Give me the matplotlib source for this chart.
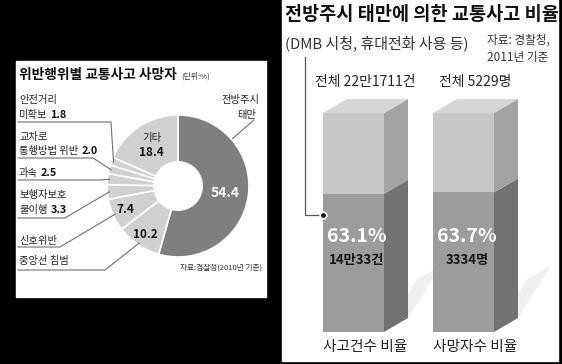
import matplotlib
matplotlib.use('Agg')
import numpy as np
import matplotlib.pyplot as plt
from matplotlib.patches import Rectangle, Polygon

plt.rcParams['font.family'] = ['Noto Sans CJK KR', 'DejaVu Sans']

# left panel: 위반행위별 교통사고 사망자 (단위 %), clockwise from 12 o'clock
violation_names = ['전방주시\n태만', '중앙선 침범', '신호위반', '보행자보호\n불이행',
                   '과속', '교차로\n통행방법 위반', '안전거리\n미확보', '기타']
violation_share = [54.4, 10.2, 7.4, 3.3, 2.5, 2.0, 1.8, 18.4]

# right panel: 전방주시 태만에 의한 교통사고 비율
bar_names = ['사고건수 비율', '사망자수 비율']
bar_share = [63.1, 63.7]
bar_totals = ['전체 22만1711건', '전체 5229명']
bar_counts = ['14만33건', '3334명']

W, H = 562, 364
fig = plt.figure(figsize=(W / 100, H / 100), dpi=100)
fig.patch.set_facecolor('black')


def pixel_axes():
    a = fig.add_axes([0, 0, 1, 1])
    a.set_xlim(0, W)
    a.set_ylim(H, 0)
    a.axis('off')
    return a


# white panels underneath everything
bg = pixel_axes()
bg.add_patch(Rectangle((16, 61), 250, 236, color='white', zorder=0))
bg.add_patch(Rectangle((282, 0), 276, 361, color='white', zorder=0))

# ---- donut ----
cx, cy, R = 178, 186, 71
dark, light = '#7f7f81', '#d0d0d0'
side = 2.5 * R
dax = fig.add_axes([(cx - side / 2) / W, (H - cy - side / 2) / H, side / W, side / H])
colors = [dark] + [light] * (len(violation_share) - 1)
dax.pie(violation_share, startangle=90, counterclock=False, colors=colors,
        wedgeprops=dict(width=0.66, edgecolor='white', linewidth=1.2))

# ---- 3d-looking bars ----
px_unit, px_pct = 110, 2.19
bax = fig.add_axes([300 / W, (H - 332) / H, 240 / W, 252 / H])
bax.set_xlim(-53.5 / px_unit, -53.5 / px_unit + 240 / px_unit)
bax.set_ylim(0, 252 / px_pct)
bax.axis('off')

bw = 61 / px_unit
dx, dy = 24 / px_unit, 14 / px_pct
top_c, front_l, side_l = '#d6d6d8', '#c7c7c9', '#a3a3a5'
front_d, side_d = '#9c9c9e', '#727274'
xs = np.arange(len(bar_share))

for x in xs:
    xr = x + bw / 2
    bax.add_patch(Polygon([(xr, 0), (xr + dx, dy), (xr + dx + 0.3, dy + 24), (xr + 0.3, 24)],
                          closed=True, color='#f0f0f0', lw=0, zorder=0.5, clip_on=False))

rest = [100 - s for s in bar_share]
bax.bar(xs, bar_share, width=bw, color=front_d, zorder=2)
bax.bar(xs, rest, bottom=bar_share, width=bw, color=front_l, zorder=2)
for x, s in zip(xs, bar_share):
    xl, xr = x - bw / 2, x + bw / 2
    bax.add_patch(Polygon([(xr, 0), (xr + dx, dy), (xr + dx, s + dy), (xr, s)],
                          closed=True, color=side_d, lw=0, zorder=2))
    bax.add_patch(Polygon([(xr, s), (xr + dx, s + dy), (xr + dx, 100 + dy), (xr, 100)],
                          closed=True, color=side_l, lw=0, zorder=2))
    bax.add_patch(Polygon([(xl, 100), (xl + dx, 100 + dy), (xr + dx, 100 + dy), (xr, 100)],
                          closed=True, color=top_c, lw=0, zorder=2))

for x, s, cnt in zip(xs, bar_share, bar_counts):
    bax.text(x + 0.03, 43.4, f'{s}%', color='white', fontsize=14, fontweight='bold',
             ha='center', va='center', zorder=4)
    bax.text(x + 0.03, 32.9, cnt, color='#151515', fontsize=9.5, fontweight='bold',
             ha='center', va='center', zorder=4)

# overlay for texts and leader lines, drawn last
ov = pixel_axes()
renderer = fig.canvas.get_renderer()


def fit(t, width):
    # scale a text so its drawn width matches the reference
    w = t.get_window_extent(renderer).width
    t.set_fontsize(t.get_fontsize() * width / w)
    return t


def right_end(t):
    bb = t.get_window_extent(renderer)
    return ov.transData.inverted().transform((bb.x1, bb.y0))[0]


cum = np.cumsum([0] + violation_share)
mid = (cum[:-1] + cum[1:]) / 2 * 3.6  # degrees clockwise from top


def on_ring(deg, r):
    t = np.radians(deg)
    return cx + r * R * np.sin(t), cy - r * R * np.cos(t)


# values written inside the ring
inner = {0: (0.67, 'white', 10), 1: (0.83, '#111111', 8.5), 2: (0.82, '#111111', 8.5)}
for i, (r, c, fs) in inner.items():
    x, y = on_ring(mid[i], r)
    ov.text(x, y, f'{violation_share[i]}', color=c, fontsize=fs, fontweight='bold',
            ha='center', va='center')
x, y = on_ring(mid[7], 0.68)
ov.text(x, y - 8, '기타', fontsize=7.5, ha='center', va='center', color='#222222')
ov.text(x, y + 7, f'{violation_share[7]}', fontsize=8.5, fontweight='bold',
        ha='center', va='center', color='#111111')

# left title
fit(ov.text(19, 75, '위반행위별 교통사고 사망자', fontsize=9.3, fontweight='bold',
            ha='left', va='center', color='#111111'), 158)
ov.text(181, 76, '(단위:%)', fontsize=5.6, ha='left', va='center', color='#333333')
ov.text(262, 268, '자료:경찰청(2010년 기준)', fontsize=5.5, ha='right', va='center',
        color='#333333')

line_c = '#707070'
lab_fs = 7.4

# outside labels: (index, text line y's, underline y, knee x, show number)
outside = [(6, [100, 115], 122, 111, True),
           (5, [137, 151], 158, 93, True),
           (4, [173], 180, 100, True),
           (3, [195, 210], 218, 65, True),
           (2, [241], 247, 60, False),
           (1, [261], 270, 105, False)]
for i, ys, uy, kx, show in outside:
    lines = violation_names[i].split('\n')
    for k, (ln, y) in enumerate(zip(lines, ys)):
        t = ov.text(19, y, ln, fontsize=lab_fs, ha='left', va='center', color='#222222')
        if show and k == len(lines) - 1:
            ov.text(right_end(t) + 3, y, f'{violation_share[i]}', fontsize=lab_fs + 0.4,
                    fontweight='bold', ha='left', va='center', color='#111111')
    ex, ey = on_ring(mid[i], 0.97)
    ov.plot([18, kx, ex], [uy, uy, ey], color=line_c, lw=0.8)

# 전방주시 태만
ov.text(259, 100, '전방주시', fontsize=lab_fs, ha='right', va='center', color='#222222')
ov.text(256, 115, '태만', fontsize=lab_fs, ha='right', va='center', color='#222222')
ex, ey = on_ring(0.25 * violation_share[0] * 3.6, 1.02)
ov.plot([254, ex], [120, ey], color=line_c, lw=0.8)

# ---- right panel texts ----
fit(ov.text(285, 14, '전방주시 태만에 의한 교통사고 비율', fontsize=11.4, fontweight='bold',
            ha='left', va='center', color='#111111'), 272)
fit(ov.text(285, 43, '(DMB 시청, 휴대전화 사용 등)', fontsize=10.3, ha='left', va='center',
            color='#333333'), 184)
src = fit(ov.text(487, 40, '자료: 경찰청,', fontsize=7.8, ha='left', va='center',
                  color='#333333'), 63)
ov.text(487, 57, '2011년 기준', fontsize=src.get_fontsize(),
        ha='left', va='center', color='#333333')
ov.plot([305, 305, 321], [57, 215, 215], color='#555555', lw=0.9)
ov.scatter([323], [215], s=22, color='#111111', edgecolor='white', linewidth=1.2, zorder=6)

# bar captions, placed at each bar's centre through the bar axes
to_px = lambda x, y: ov.transData.inverted().transform(bax.transData.transform((x, y)))
for x, tot, name in zip(xs, bar_totals, bar_names):
    px, _ = to_px(x + dx / 2, 0)
    ov.text(px, 82, tot, color='#222222', fontsize=10, ha='center', va='center')
    ov.text(px, 347, name, color='#222222', fontsize=10.6, ha='center', va='center')

fig.savefig('out.png', dpi=100, facecolor=fig.get_facecolor())
